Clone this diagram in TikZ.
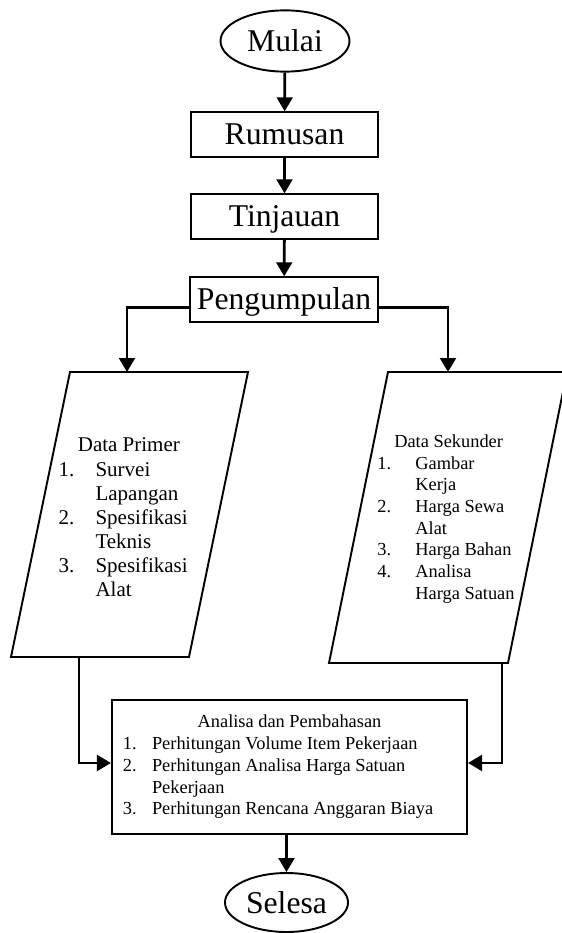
\documentclass[tikz,border=0pt]{standalone}
\usepackage{fontspec}
\setmainfont{Liberation Serif}
\usetikzlibrary{shapes.geometric,arrows.meta}

\begin{document}
\begin{tikzpicture}[x=0.5714pt,y=-0.5714pt,
	terminal/.style={ellipse,draw,line width=1.1pt,inner sep=0pt,minimum width=73.7pt,minimum height=35pt,text height=13.5pt,text depth=1pt,font=\fontsize{18.1}{21}\selectfont},
	process/.style={rectangle,draw,line width=1.1pt,inner sep=0pt,minimum width=107pt,minimum height=25.4pt,text height=13.5pt,text depth=2.6pt,font=\fontsize{18.1}{21}\selectfont},
	flow/.style={line width=1.6pt,-{Triangle[length=8pt,width=9pt]}},
	datalist/.style={inner sep=0pt,font=\fontsize{10.5}{12.4}\selectfont}]
    \useasboundingbox (0,0) rectangle (561,933);
    \node[terminal] (mulai) at (285,41) {Mulai};
    \node[process] (rum) at (284.5,134.5) {Rumusan};
    \node[process] (tinj) at (284.5,216.5) {Tinjauan};
    \node[process] (peng) at (284,299.5) {Pengumpulan};
    \draw[line width=1.1pt] (70,372) -- (248,372) -- (189,657) -- (11,657) -- cycle;
    \draw[line width=1.1pt] (388,372) -- (567,372) -- (508,663) -- (329,663) -- cycle;
    \coordinate (primerin) at (127,372);
    \coordinate (sekunderin) at (448,372);
    \coordinate (primerout) at (79,657);
    \coordinate (sekunderout) at (502,663);
    \node[datalist,font=\fontsize{12}{13.8}\selectfont] (primer) at (124.5,519.5) {\begin{tabular}{@{}p{21.1pt}@{}l@{}}
      \multicolumn{2}{c}{\hspace{5pt}Data Primer}\\
      1.&Survei\\ &Lapangan\\ 2.&Spesifikasi\\ &Teknis\\ 3.&Spesifikasi\\ &Alat
    \end{tabular}};
    \node[datalist] (sekunder) at (446,519) {\begin{tabular}{@{}p{21.7pt}@{}l@{}}
      \multicolumn{2}{c}{\hspace{3pt}Data Sekunder}\\
      1.&Gambar\\ &Kerja\\ 2.&Harga Sewa\\ &Alat\\ 3.&Harga Bahan\\ 4.&Analisa\\ &Harga Satuan
    \end{tabular}};
    \node[datalist,draw,line width=1.1pt,minimum width=202.9pt,minimum height=76.6pt] (anl) at (289.5,767) {\begin{tabular}{@{}p{16.6pt}@{}p{173.7pt}@{}}
      \multicolumn{2}{c}{Analisa dan Pembahasan}\\
      1.&Perhitungan Volume Item Pekerjaan\\
      2.&Perhitungan Analisa Harga Satuan\\
      &Pekerjaan\\
      3.&Perhitungan Rencana Anggaran Biaya
    \end{tabular}};
    \node[terminal,minimum width=70.3pt,minimum height=33.7pt] (sel) at (286.5,902.5) {Selesa};
    \draw[flow] (mulai) -- (rum);
    \draw[flow] (rum) -- (tinj);
    \draw[flow] (tinj) -- (peng);
    \draw[flow] ([yshift=-4.6pt]peng.west) -| (primerin);
    \draw[flow] ([yshift=-4.6pt]peng.east) -| (sekunderin);
    \draw[flow] (primerout) |- ([yshift=2.3pt]anl.west);
    \draw[flow] (sekunderout) |- ([yshift=2.3pt]anl.east);
    \draw[flow] (anl.south -| sel.north) -- (sel);
  \end{tikzpicture}
\end{document}
